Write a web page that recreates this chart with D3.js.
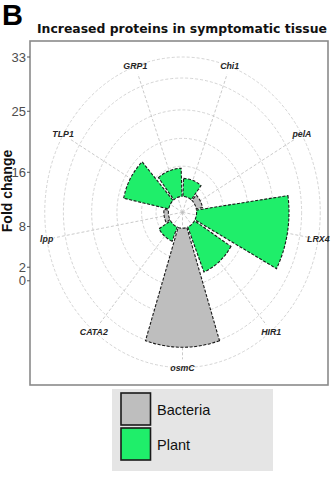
<!DOCTYPE html>
<html>
<head>
<meta charset="utf-8">
<script src="https://cdn.jsdelivr.net/npm/d3@7"></script>
<style>
  html, body { margin: 0; padding: 0; background: #ffffff; }
  svg { display: block; }
</style>
</head>
<body>
<div id="chart"></div>
<script>
// Proteins shown clockwise from the top of the polar plot
const categories = ["Chi1", "pelA", "LRX4", "HIR1", "osmC", "CATA2", "lpp", "TLP1", "GRP1"];
// Organism each protein comes from
const origin = ["Plant", "Bacteria", "Plant", "Plant", "Bacteria", "Plant", "Bacteria", "Plant", "Plant"];
// Fold change of each protein
const foldChange = [15.1, 13.5, 27.8, 19.6, 30.0, 14.7, 13.2, 20.1, 16.6];
// Radial axis
const axisTicks = [33, 25, 16, 8, 2, 0];
const gridRings = [14.5, 16.9, 21, 25.2, 29.9, 33];
const barBase = 12.45;
// Legend
const legendKeys = ["Bacteria", "Plant"];
const legendColors = ["#bebebe", "#1fee6a"];

const W = 334, H = 479;
const cx = 182.5, cy = 212.3;
const squeezeX = 0.887;          // plot drawn narrower than tall
const panel = {x0: 30, y0: 41, x1: 328, y1: 385};

const svg = d3.select("#chart").append("svg")
  .attr("width", W).attr("height", H);

// Radial scale (value -> radius in px)
const r = d3.scaleLinear().domain([10.1, 33]).range([0, 155.3]);
// Angular band scale
const theta = d3.scaleBand().domain(categories).range([0, 2 * Math.PI]).paddingInner(0.1).paddingOuter(0.05);
const color = d3.scaleOrdinal().domain(legendKeys).range(legendColors);

// Panel letter and title
svg.append("text").attr("x", 2).attr("y", 25)
  .attr("font-family", "Liberation Sans, Arial, sans-serif")
  .attr("font-weight", "bold").attr("font-size", 29).attr("fill", "#000")
  .text("B");
svg.append("text").attr("x", 37).attr("y", 33)
  .attr("font-family", "DejaVu Sans, sans-serif")
  .attr("font-weight", "bold").attr("font-size", 12.2).attr("fill", "#111")
  .attr("textLength", 290).attr("lengthAdjust", "spacingAndGlyphs")
  .text("Increased proteins in symptomatic tissue");

// Panel background and border
svg.append("rect")
  .attr("x", panel.x0).attr("y", panel.y0)
  .attr("width", panel.x1 - panel.x0).attr("height", panel.y1 - panel.y0)
  .attr("fill", "#ffffff").attr("stroke", "#8a8a8a").attr("stroke-width", 1.6);

const polar = svg.append("g")
  .attr("transform", `translate(${cx},${cy}) scale(${squeezeX},1)`);

// Grid rings
polar.selectAll("circle.ring").data(gridRings).join("circle")
  .attr("class", "ring")
  .attr("r", d => r(d))
  .attr("fill", "none").attr("stroke", "#c9c9c9").attr("stroke-width", 0.8)
  .attr("stroke-dasharray", "3,2")
  .attr("vector-effect", "non-scaling-stroke");

// Spokes
const mid = d => theta(d) + theta.bandwidth() / 2;
polar.selectAll("line.spoke").data(categories).join("line")
  .attr("class", "spoke")
  .attr("x1", 0).attr("y1", 0)
  .attr("x2", d => 147 * Math.sin(mid(d)))
  .attr("y2", d => -147 * Math.cos(mid(d)))
  .attr("stroke", "#bdbdbd").attr("stroke-width", 0.8)
  .attr("stroke-dasharray", "3,2")
  .attr("vector-effect", "non-scaling-stroke");

// Bars
const arc = d3.arc();
polar.selectAll("path.bar").data(categories).join("path")
  .attr("class", "bar")
  .attr("d", (d, i) => arc({
    innerRadius: r(barBase),
    outerRadius: r(foldChange[i]),
    startAngle: theta(d),
    endAngle: theta(d) + theta.bandwidth()
  }))
  .attr("fill", (d, i) => color(origin[i]))
  .attr("stroke", "#1a1a1a").attr("stroke-width", 1.1)
  .attr("stroke-dasharray", "3,1.6")
  .attr("vector-effect", "non-scaling-stroke");

// Category labels
svg.append("g").selectAll("text").data(categories).join("text")
  .attr("x", d => cx + 155.5 * squeezeX * Math.sin(mid(d)))
  .attr("y", d => cy - 156 * Math.cos(mid(d)))
  .attr("text-anchor", "middle").attr("dominant-baseline", "central")
  .attr("font-family", "Liberation Sans, Arial, sans-serif")
  .attr("font-weight", "bold").attr("font-style", "italic")
  .attr("font-size", 8.8).attr("fill", "#262626")
  .text(d => d);

// Radial axis on the left edge
const axisY = v => cy - r(v);
const axisG = svg.append("g");
axisG.selectAll("line").data(axisTicks).join("line")
  .attr("x1", panel.x0 - 3).attr("x2", panel.x0)
  .attr("y1", axisY).attr("y2", axisY)
  .attr("stroke", "#555").attr("stroke-width", 1);
axisG.selectAll("text").data(axisTicks).join("text")
  .attr("x", panel.x0 - 4).attr("y", axisY)
  .attr("text-anchor", "end").attr("dominant-baseline", "central")
  .attr("font-family", "Liberation Sans, Arial, sans-serif")
  .attr("font-size", 13).attr("fill", "#4d4d4d")
  .text(d => d);
svg.append("text")
  .attr("transform", `translate(12,191) rotate(-90)`)
  .attr("text-anchor", "middle")
  .attr("font-family", "Liberation Sans, Arial, sans-serif")
  .attr("font-weight", "bold").attr("font-size", 14).attr("fill", "#111")
  .text("Fold change");

// Legend
const legend = svg.append("g");
legend.append("rect")
  .attr("x", 112).attr("y", 389).attr("width", 161).attr("height", 82)
  .attr("fill", "#e5e5e5");
const keyH = 33;
legend.selectAll("rect.key").data(legendKeys).join("rect")
  .attr("class", "key")
  .attr("x", 121).attr("y", (d, i) => 393 + i * (keyH + 2))
  .attr("width", 29.5).attr("height", keyH - 1)
  .attr("fill", d => color(d))
  .attr("stroke", "#1a1a1a").attr("stroke-width", 1.6);
legend.selectAll("text").data(legendKeys).join("text")
  .attr("x", 157).attr("y", (d, i) => 410 + i * (keyH + 2))
  .attr("dominant-baseline", "central")
  .attr("font-family", "Liberation Sans, Arial, sans-serif")
  .attr("font-size", 14.5).attr("fill", "#111")
  .text(d => d);
</script>
</body>
</html>
